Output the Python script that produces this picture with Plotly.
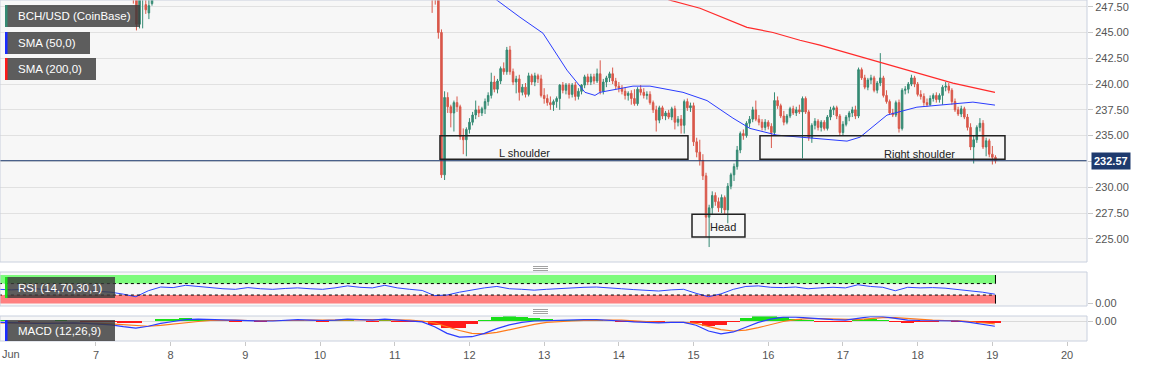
import plotly.graph_objects as go

# ---------------- DATA ----------------
# hourly candles, time in fractional days of June
run_a_start = 7.5
open_a  = [249.6, 248.4, 245.8, 248.4, 247.7, 246.9, 247.8, 248.6]
high_a  = [250.2, 248.8, 248.9, 249.3, 248.3, 248.5, 249.0, 249.8]
low_a   = [247.8, 245.2, 245.4, 245.4, 246.8, 246.3, 247.6, 248.3]
close_a = [248.4, 245.8, 248.6, 248.9, 247.2, 247.6, 248.6, 249.5]

run_b_start = 11.5
open_b = [250.2, 248.6, 248.3, 245.0, 231.2, 238.7, 237.8, 237.2, 238.2, 237.8,
          234.9, 234.6, 235.6, 236.3, 237.0, 237.5, 237.2, 237.6, 238.3, 238.9,
          240.2, 239.5, 240.3, 241.5, 241.2, 243.3, 241.2, 240.2, 240.5, 239.2,
          239.7, 239.0, 240.8, 240.2, 240.8, 240.5, 238.9, 238.6, 238.2, 238.0,
          238.3, 238.6, 239.9, 239.4, 239.9, 239.0, 239.9, 238.8, 239.3, 239.9,
          240.7, 240.2, 240.7, 240.3, 241.0, 239.3, 240.2, 240.6, 241.0, 240.3,
          239.8, 239.6, 239.3, 238.9, 239.1, 238.6, 238.1, 239.5, 239.2, 238.9,
          239.0, 238.2, 237.5, 236.5, 237.7, 236.9, 237.2, 236.8, 237.6, 236.3,
          236.6, 236.0, 238.3, 237.7, 237.9, 234.4, 233.4, 232.6, 231.1, 227.1,
          228.0, 229.2, 228.6, 228.0, 229.0, 227.8, 230.1, 231.2, 232.0, 233.6,
          235.2, 235.0, 236.2, 236.6, 237.5, 236.6, 236.3, 235.8, 236.3, 235.9,
          235.3, 238.4, 237.9, 236.9, 236.3, 236.9, 237.6, 237.2, 237.5, 237.3,
          238.6, 237.3, 234.8, 236.0, 236.4, 235.8, 236.3, 235.7, 236.8, 237.5,
          237.7, 236.9, 235.3, 236.1, 236.8, 237.2, 237.5, 236.9, 241.4, 240.6,
          239.7, 240.4, 240.6, 239.4, 240.1, 240.6, 238.9, 238.3, 237.2, 237.0,
          238.2, 235.7, 239.4, 239.5, 240.0, 240.6, 240.0, 239.0, 238.8, 238.2,
          238.0, 238.6, 238.9, 238.5, 238.9, 239.7, 239.8, 239.4, 238.3, 237.5,
          237.1, 237.6, 236.8, 235.8, 233.9, 234.6, 235.8, 236.2, 233.9, 234.5,
          233.2, 232.9]
high_b = [250.8, 249.3, 248.7, 245.3, 239.3, 239.2, 238.0, 238.4, 238.8, 238.0,
          235.7, 235.8, 236.7, 237.3, 238.4, 237.9, 237.8, 238.6, 239.2, 241.1,
          240.8, 240.5, 241.7, 242.1, 243.6, 243.7, 241.5, 240.8, 240.9, 240.0,
          240.1, 241.1, 241.0, 241.1, 241.0, 240.9, 239.6, 239.0, 238.8, 238.5,
          238.8, 240.0, 240.2, 240.1, 240.1, 240.1, 240.2, 239.6, 240.0, 240.9,
          241.0, 241.0, 241.0, 241.5, 242.3, 240.5, 240.8, 241.2, 241.6, 240.6,
          240.2, 239.9, 239.7, 239.3, 239.4, 239.5, 239.7, 239.9, 239.6, 239.3,
          239.3, 238.4, 237.9, 237.9, 237.9, 237.4, 237.5, 237.8, 237.9, 236.9,
          237.0, 238.5, 238.6, 238.2, 238.2, 234.8, 234.6, 233.2, 231.4, 228.3,
          229.6, 229.5, 229.0, 229.3, 229.2, 230.4, 231.4, 232.3, 234.0, 235.4,
          235.6, 236.4, 236.9, 237.8, 238.4, 237.0, 236.6, 236.6, 236.5, 236.2,
          239.2, 238.8, 238.1, 237.4, 237.1, 237.8, 237.9, 237.8, 238.0, 238.8,
          238.8, 237.5, 236.2, 236.7, 236.6, 236.5, 236.5, 237.0, 237.8, 237.9,
          237.9, 237.1, 236.4, 237.0, 237.4, 237.8, 237.9, 241.6, 241.6, 240.9,
          240.6, 240.9, 240.8, 240.3, 243.0, 240.8, 239.4, 238.5, 237.6, 238.4,
          238.5, 239.6, 239.8, 240.2, 240.9, 240.8, 240.2, 239.4, 239.1, 238.6,
          238.9, 239.1, 239.2, 239.1, 239.9, 240.2, 240.1, 239.6, 238.6, 237.8,
          237.9, 237.8, 237.1, 236.2, 235.0, 236.0, 236.7, 236.5, 234.8, 234.7,
          234.0, 233.1]
low_b = [246.9, 247.7, 244.4, 230.9, 230.7, 237.2, 235.8, 235.4, 237.3, 234.6,
         233.2, 233.0, 235.2, 236.0, 236.6, 236.8, 236.9, 237.1, 237.9, 238.6,
         239.2, 239.1, 240.0, 240.9, 240.9, 240.9, 239.9, 239.1, 238.4, 238.9,
         238.7, 238.8, 239.9, 239.8, 240.1, 238.7, 238.1, 237.9, 237.5, 237.4,
         237.7, 237.5, 239.1, 239.0, 238.6, 238.7, 238.4, 238.5, 239.0, 239.6,
         239.9, 239.9, 240.0, 240.1, 239.0, 239.0, 239.7, 240.2, 240.0, 239.5,
         239.2, 239.0, 238.5, 238.4, 238.0, 237.9, 237.9, 238.9, 238.6, 238.5,
         238.0, 237.2, 235.4, 236.2, 236.6, 236.5, 236.6, 236.5, 235.6, 235.9,
         235.2, 235.2, 237.4, 237.3, 234.0, 232.9, 232.1, 230.7, 225.2, 224.2,
         227.4, 228.2, 227.6, 227.5, 227.4, 226.5, 229.8, 230.6, 231.7, 233.3,
         234.6, 234.8, 235.8, 236.3, 236.4, 236.0, 235.5, 235.5, 235.6, 233.8,
         235.1, 237.6, 236.7, 236.0, 236.1, 236.7, 237.0, 236.9, 237.1, 232.8,
         237.1, 234.5, 234.3, 235.6, 235.5, 235.4, 235.5, 235.5, 236.5, 237.0,
         236.6, 235.0, 235.0, 235.9, 236.4, 236.8, 236.6, 236.7, 240.4, 239.5,
         239.4, 240.0, 239.2, 239.1, 239.8, 238.7, 238.1, 237.0, 236.8, 236.8,
         235.3, 235.5, 239.0, 239.1, 239.8, 239.7, 238.8, 238.5, 237.9, 237.8,
         237.9, 238.3, 238.2, 238.2, 238.0, 239.3, 239.1, 238.0, 237.3, 236.9,
         236.8, 236.6, 235.5, 233.6, 232.3, 234.3, 235.4, 233.7, 233.0, 232.9,
         232.2, 232.3]
close_b = [248.6, 248.3, 245.0, 231.2, 238.7, 237.8, 237.2, 238.2, 237.8, 234.9,
           234.6, 235.6, 236.3, 237.0, 237.5, 237.2, 237.6, 238.3, 238.9, 240.2,
           239.5, 240.3, 241.5, 241.2, 243.3, 241.2, 240.2, 240.5, 239.2, 239.7,
           239.0, 240.8, 240.2, 240.8, 240.5, 238.9, 238.6, 238.2, 238.0, 238.3,
           238.6, 239.9, 239.4, 239.9, 239.0, 239.9, 238.8, 239.3, 239.9, 240.7,
           240.2, 240.7, 240.3, 241.0, 239.3, 240.2, 240.6, 241.0, 240.3, 239.8,
           239.6, 239.3, 238.9, 239.1, 238.6, 238.1, 239.5, 239.2, 238.9, 239.0,
           238.2, 237.5, 236.5, 237.7, 236.9, 237.2, 236.8, 237.6, 236.3, 236.6,
           236.0, 238.3, 237.7, 237.9, 234.4, 233.4, 232.6, 231.1, 227.1, 228.0,
           229.2, 228.6, 228.0, 229.0, 227.8, 230.1, 231.2, 232.0, 233.6, 235.2,
           235.0, 236.2, 236.6, 237.5, 236.6, 236.3, 235.8, 236.3, 235.9, 235.3,
           238.4, 237.9, 236.9, 236.3, 236.9, 237.6, 237.2, 237.5, 237.3, 238.6,
           237.3, 234.8, 236.0, 236.4, 235.8, 236.3, 235.7, 236.8, 237.5, 237.7,
           236.9, 235.3, 236.1, 236.8, 237.2, 237.5, 236.9, 241.4, 240.6, 239.7,
           240.4, 240.6, 239.4, 240.1, 240.6, 238.9, 238.3, 237.2, 237.0, 238.2,
           235.7, 239.4, 239.5, 240.0, 240.6, 240.0, 239.0, 238.8, 238.2, 238.0,
           238.6, 238.9, 238.5, 238.9, 239.7, 239.8, 239.4, 238.3, 237.5, 237.1,
           237.6, 236.8, 235.8, 233.9, 234.6, 235.8, 236.2, 233.9, 234.5, 233.2,
           232.9, 232.57]

last_price = 232.57

# moving averages
sma50_t = [12.274, 12.368, 12.676, 12.984, 13.305, 13.546, 13.68, 13.747, 14.189, 14.416,
           14.858, 15.18, 15.527, 15.755, 16.117, 16.558, 17.054, 17.228, 17.589, 17.99,
           18.566, 18.74, 19.035]
sma50_v = [248.6, 248.13, 246.48, 244.93, 241.35, 239.2, 238.9, 239.2, 239.8, 239.8,
           239.2, 238.4, 236.7, 235.7, 235.05, 234.76, 234.47, 234.85, 236.99, 237.76,
           238.15, 238.25, 237.96]
sma200_t = [14.42, 14.684, 15.086, 15.715, 16.063, 16.424, 16.692, 17.495, 18.472, 19.035]
sma200_v = [248.8, 248.13, 247.35, 245.5, 245.0, 244.25, 243.77, 242.12, 240.09, 239.2]

# indicators, every 4 hours
ind_start = 5.70
ind_step = 1 / 6
rsi = [50, 48, 50, 52, 47, 46, 48, 46, 44, 40,
       33, 24, 45, 58, 56, 64, 60, 55, 52, 50,
       56, 52, 50, 53, 55, 52, 50, 55, 62, 57,
       55, 64, 55, 50, 46, 28, 30, 40, 48, 55,
       60, 52, 50, 47, 50, 53, 56, 57, 58, 54,
       52, 49, 46, 44, 48, 50, 36, 24, 34, 50,
       60, 62, 57, 56, 58, 52, 55, 57, 55, 66,
       60, 57, 45, 57, 55, 56, 54, 50, 44, 40, 33]
macd = [-0.3, -0.4, -0.5, -0.5, -0.5, -0.4, -0.4, -0.5, -0.6, -0.8,
        -1.2, -1.5, -1.1, -0.5, -0.1, 0.3, 0.4, 0.3, 0.2, 0.1,
        0.1, 0.0, 0.0, 0.1, 0.3, 0.2, 0.1, 0.2, 0.4, 0.3,
        0.2, 0.4, 0.2, 0.0, -0.2, -1.2, -2.6, -3.4, -3.3, -2.6,
        -1.6, -0.8, -0.3, 0.0, 0.1, 0.1, 0.2, 0.3, 0.3, 0.2,
        0.0, -0.2, -0.3, -0.4, -0.3, -0.3, -0.9, -2.1, -2.7, -2.3,
        -1.3, -0.3, 0.4, 0.8, 0.8, 0.6, 0.4, 0.3, 0.2, 0.5,
        0.9, 0.9, 0.5, 0.2, 0.1, 0.1, 0.1, 0.0, -0.3, -0.7, -1.1]
signal = [-0.4, -0.4, -0.4, -0.5, -0.5, -0.5, -0.4, -0.4, -0.5, -0.6,
          -0.8, -1.0, -1.1, -0.9, -0.6, -0.3, -0.1, 0.1, 0.2, 0.2,
          0.1, 0.1, 0.0, 0.0, 0.1, 0.2, 0.2, 0.1, 0.2, 0.3,
          0.3, 0.3, 0.3, 0.2, 0.0, -0.4, -1.2, -2.0, -2.6, -2.7,
          -2.4, -1.8, -1.2, -0.7, -0.3, -0.1, 0.0, 0.1, 0.2, 0.2,
          0.2, 0.0, -0.1, -0.3, -0.3, -0.3, -0.5, -1.1, -1.8, -2.1,
          -1.9, -1.4, -0.7, -0.1, 0.3, 0.5, 0.5, 0.4, 0.3, 0.3,
          0.5, 0.7, 0.7, 0.5, 0.3, 0.2, 0.1, 0.1, -0.1, -0.3, -0.6]
hist = [0.1, 0.0, -0.1, 0.0, 0.0, 0.1, 0.0, -0.1, -0.1, -0.2,
        -0.4, -0.5, 0.0, 0.4, 0.5, 0.6, 0.5, 0.2, 0.0, -0.1,
        0.0, -0.1, 0.0, 0.1, 0.2, 0.0, -0.1, 0.1, 0.2, 0.0,
        -0.1, 0.1, -0.1, -0.2, -0.2, -0.8, -1.4, -1.4, -0.7, 0.1,
        0.8, 1.0, 0.9, 0.7, 0.4, 0.2, 0.2, 0.2, 0.1, 0.0,
        -0.2, -0.2, -0.2, -0.1, 0.0, 0.0, -0.4, -1.0, -0.9, -0.2,
        0.6, 1.1, 1.1, 0.9, 0.5, 0.1, -0.1, -0.1, -0.1, 0.2,
        0.4, 0.2, -0.2, -0.3, -0.2, -0.1, 0.0, -0.1, -0.2, -0.4, -0.5]
rsi_upper, rsi_lower = 70, 30

# chart pattern boxes
pattern_names = ["L shoulder", "Head", "Right shoulder"]
pattern_t0 = [11.605, 14.979, 15.889]
pattern_t1 = [14.925, 15.688, 19.169]
pattern_lo = [232.7, 225.17, 232.7]
pattern_hi = [235.0, 227.39, 235.0]
pattern_text_t = [12.743, 15.39, 18.03]
pattern_text_v = [233.3, 226.1, 233.2]

day_ticks = list(range(7, 21))

# ---------------- FIGURE ----------------
PLOT_W, PLOT_H = 1087, 341
def pxx(x):
    return x / PLOT_W
def pxy(y):
    return 1 - y / PLOT_H

t_a = [run_a_start + j / 24 for j in range(len(open_a))]
t_b = [run_b_start + k / 24 for k in range(len(open_b))]
ind_t = [ind_start + i * ind_step for i in range(len(rsi))]
end_t = t_b[-1]

fig = go.Figure()

fig.add_trace(go.Candlestick(
    x=t_a + t_b, open=open_a + open_b, high=high_a + high_b,
    low=low_a + low_b, close=close_a + close_b,
    increasing=dict(line=dict(color="#358a73", width=1), fillcolor="#358a73"),
    decreasing=dict(line=dict(color="#d9584a", width=1), fillcolor="#d9584a"),
    whiskerwidth=0, xaxis="x", yaxis="y", showlegend=False, hoverinfo="skip"))

fig.add_trace(go.Scatter(x=sma50_t, y=sma50_v, mode="lines",
                         line=dict(color="#2a3cff", width=1), xaxis="x", yaxis="y",
                         showlegend=False, hoverinfo="skip"))
fig.add_trace(go.Scatter(x=sma200_t, y=sma200_v, mode="lines",
                         line=dict(color="#ff2a2a", width=1.2), xaxis="x", yaxis="y",
                         showlegend=False, hoverinfo="skip"))

fig.add_trace(go.Scatter(x=ind_t, y=rsi, mode="lines",
                         line=dict(color="#2a45ff", width=1), xaxis="x", yaxis="y2",
                         showlegend=False, hoverinfo="skip"))

fig.add_trace(go.Bar(x=ind_t, y=hist, width=ind_step,
                     marker=dict(color=["#19e019" if h >= 0 else "#ff1a1a" for h in hist],
                                 line=dict(width=0)),
                     xaxis="x", yaxis="y3", showlegend=False, hoverinfo="skip"))
fig.add_trace(go.Scatter(x=ind_t, y=signal, mode="lines",
                         line=dict(color="#ff7a1a", width=1.2), xaxis="x", yaxis="y3",
                         showlegend=False, hoverinfo="skip"))
fig.add_trace(go.Scatter(x=ind_t, y=macd, mode="lines",
                         line=dict(color="#2a3cff", width=1.2), xaxis="x", yaxis="y3",
                         showlegend=False, hoverinfo="skip"))

shapes = []
annotations = []
FONT = "Liberation Sans, Arial, sans-serif"

# RSI bands
shapes += [
    dict(type="rect", xref="x", yref="y2", x0=ind_start, x1=end_t, y0=rsi_upper, y1=100,
         fillcolor="#7dfb7d", line=dict(width=0), layer="below"),
    dict(type="rect", xref="x", yref="y2", x0=ind_start, x1=end_t, y0=0, y1=rsi_lower,
         fillcolor="#ff8080", line=dict(width=0), layer="below"),
    dict(type="line", xref="x", yref="y2", x0=ind_start, x1=end_t, y0=rsi_upper, y1=rsi_upper,
         line=dict(color="#000", width=1, dash="dot")),
    dict(type="line", xref="x", yref="y2", x0=ind_start, x1=end_t, y0=rsi_lower, y1=rsi_lower,
         line=dict(color="#000", width=1, dash="dot")),
    dict(type="line", xref="x", yref="y2", x0=end_t, x1=end_t, y0=rsi_upper, y1=100,
         line=dict(color="#000", width=1)),
    dict(type="line", xref="x", yref="y2", x0=end_t, x1=end_t, y0=0, y1=rsi_lower,
         line=dict(color="#000", width=1)),
]

# last price line
shapes.append(dict(type="line", xref="paper", yref="y", x0=0, x1=1, y0=last_price, y1=last_price,
                   line=dict(color="#1e3a6e", width=1)))
annotations.append(dict(xref="paper", yref="y", x=1, y=last_price, xanchor="left", yanchor="middle",
                        xshift=4, text="<b>%.2f</b>" % last_price, showarrow=False,
                        bgcolor="#1e3a6e", font=dict(color="white", size=11, family=FONT),
                        borderpad=2))

# pattern rectangles
for name, t0, t1, lo, hi, tt, tv in zip(pattern_names, pattern_t0, pattern_t1, pattern_lo,
                                        pattern_hi, pattern_text_t, pattern_text_v):
    shapes.append(dict(type="rect", xref="x", yref="y", x0=t0, x1=t1, y0=lo, y1=hi,
                       line=dict(color="#222", width=1.5), fillcolor="rgba(0,0,0,0)"))
    annotations.append(dict(xref="x", yref="y", x=tt, y=tv, text=name, showarrow=False,
                            font=dict(color="#222", size=11, family=FONT)))

# panel borders
for yr in ["y domain", "y2 domain", "y3 domain"]:
    shapes.append(dict(type="rect", xref="paper", yref=yr, x0=0, x1=1, y0=0, y1=1,
                       line=dict(color="#c9d0de", width=1), layer="above"))

# legend label boxes
labels = [("BCH/USD (CoinBase)", 5, 140, 5, 27, "#358a73"),
          ("SMA (50,0)", 5, 90, 32, 54, "#1a2cff"),
          ("SMA (200,0)", 5, 96, 58, 80, "#ff1a1a"),
          ("RSI (14,70,30,1)", 5, 115, 277, 298, "#19e019"),
          ("MACD (12,26,9)", 5, 115, 320, 341, "#1a2cff")]
for text, x0, x1, y0, y1, col in labels:
    shapes.append(dict(type="rect", xref="paper", yref="paper", x0=pxx(x0), x1=pxx(x1),
                       y0=pxy(y1), y1=pxy(y0), fillcolor="rgba(58,58,58,0.82)",
                       line=dict(width=0), layer="above"))
    shapes.append(dict(type="rect", xref="paper", yref="paper", x0=pxx(x0), x1=pxx(x0 + 2.5),
                       y0=pxy(y1), y1=pxy(y0), fillcolor=col, line=dict(width=0), layer="above"))
    annotations.append(dict(xref="paper", yref="paper", x=pxx(x0 + 11), y=pxy((y0 + y1) / 2),
                            xanchor="left", yanchor="middle", text=text, showarrow=False,
                            font=dict(color="white", size=11.5, family=FONT)))

# resize handles
for yy in (266, 309):
    for d in (0, 2, 4):
        shapes.append(dict(type="line", xref="paper", yref="paper", x0=pxx(533), x1=pxx(548),
                           y0=pxy(yy + d + 0.5), y1=pxy(yy + d + 0.5),
                           line=dict(color="#8a8a8a", width=0.8)))

annotations.append(dict(xref="paper", yref="paper", x=pxx(0), y=pxy(354), xanchor="left",
                        yanchor="middle", text="Jun", showarrow=False,
                        font=dict(color="#555", size=11, family=FONT)))

fig.update_layout(
    width=1153, height=367,
    margin=dict(l=0, r=66, t=0, b=26),
    paper_bgcolor="white", plot_bgcolor="#f7f7f7",
    font=dict(family=FONT, size=11, color="#555"),
    showlegend=False, bargap=0,
    xaxis=dict(range=[5.715, 20.267], anchor="y3", tickvals=day_ticks,
               ticktext=[str(d) for d in day_ticks], ticks="outside", ticklen=4,
               tickcolor="#c8c8c8", showgrid=False, zeroline=False, showline=False,
               rangeslider=dict(visible=False), tickfont=dict(size=11, color="#555")),
    yaxis=dict(domain=[1 - 262 / 341, 1], range=[222.75, 248.15], side="right",
               tickvals=[225 + 2.5 * i for i in range(10)],
               ticktext=["%.2f" % (225 + 2.5 * i) for i in range(10)],
               ticks="outside", ticklen=5, tickcolor="#c8c8c8", showgrid=True,
               gridcolor="#e1e1e1", zeroline=False, tickfont=dict(size=11, color="#555")),
    yaxis2=dict(domain=[1 - 306 / 341, 1 - 272 / 341], range=[-8.3, 110.5], side="right",
                tickvals=[0], ticktext=["0.00"], ticks="outside", ticklen=5, tickcolor="#c8c8c8",
                showgrid=False, zeroline=False, tickfont=dict(size=11, color="#555")),
    yaxis3=dict(domain=[0, 1 - 316 / 341], range=[-4.2, 1.05], side="right",
                tickvals=[0], ticktext=["0.00"], ticks="outside", ticklen=5, tickcolor="#c8c8c8",
                showgrid=False, zeroline=True, zerolinecolor="#dadada", zerolinewidth=1,
                tickfont=dict(size=11, color="#555")),
    shapes=shapes, annotations=annotations,
)

fig.write_html("out.html", config={"displayModeBar": False},
               post_script="document.body.style.margin='0';document.body.style.padding='0';")
